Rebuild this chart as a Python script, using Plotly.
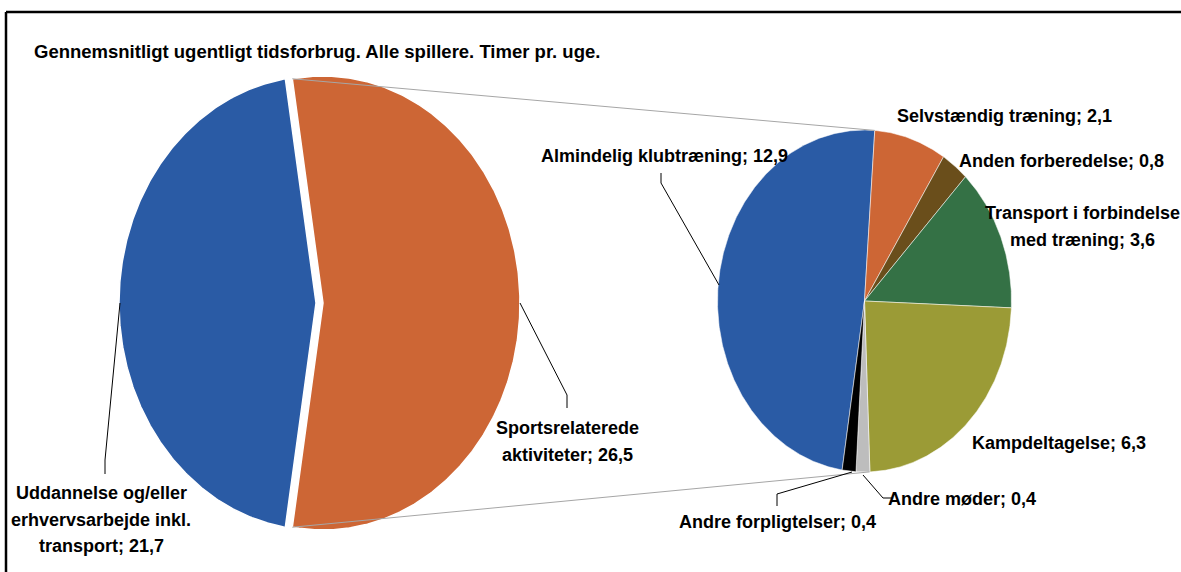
import numpy as np
import plotly.graph_objects as go

# ---------------- data ----------------
title_text = "Gennemsnitligt ugentligt tidsforbrug. Alle spillere. Timer pr. uge."

main_label_lines = [
    ["Uddannelse og/eller", "erhvervsarbejde inkl.", "transport"],
    ["Sportsrelaterede", "aktiviteter"],
]
main_values = [21.7, 26.5]
main_colors = ["#2A5BA5", "#CD6635"]

sub_label_lines = [
    ["Almindelig klubtræning"],
    ["Selvstændig træning"],
    ["Anden forberedelse"],
    ["Transport i forbindelse", "med træning"],
    ["Kampdeltagelse"],
    ["Andre møder"],
    ["Andre forpligtelser"],
]
sub_values = [12.9, 2.1, 0.8, 3.6, 6.3, 0.4, 0.4]
sub_colors = ["#2A5BA5", "#CD6635", "#6A4E1B", "#347145", "#9B9B36", "#BDBDBD", "#000000"]

# ---------------- layout constants ----------------
W, H = 1181, 572
FONT = "Liberation Sans, Arial, sans-serif"
LBL_SIZE = 18
LINE_GAP = 26.5

L_CX, L_CY, L_RX, L_RY, L_EXPLODE = 316, 303, 197, 227, 7
R_CX, R_CY, R_RX, R_RY = 864.5, 301, 147, 171
R_START = 4.0  # clockwise degrees from 12 o'clock where the 2nd slice begins


def fmt(v):
    return f"{v:.1f}".replace(".", ",")


def ell_pt(cx, cy, rx, ry, a):
    r = np.radians(a)
    return cx + rx * np.sin(r), cy - ry * np.cos(r)


def wedge(cx, cy, rx, ry, a0, a1):
    n = max(3, int(abs(a1 - a0) * 2) + 2)
    t = np.linspace(a0, a1, n)
    xs, ys = ell_pt(cx, cy, rx, ry, t)
    return [cx] + list(xs) + [cx], [cy] + list(ys) + [cy]


fig = go.Figure()

# ---------------- left (main) pie ----------------
tot_main = sum(main_values)
half = main_values[1] / tot_main * 180.0
main_spans = [(90 + half, 450 - half), (90 - half, 90 + half)]
main_centers = [(L_CX, L_CY), (L_CX + L_EXPLODE, L_CY)]
for i, v in enumerate(main_values):
    a0, a1 = main_spans[i]
    cx, cy = main_centers[i]
    xs, ys = wedge(cx, cy, L_RX, L_RY, a0, a1)
    fig.add_trace(go.Scatter(
        x=xs, y=ys, mode="lines", fill="toself", fillcolor=main_colors[i],
        line=dict(color="white", width=1.5), hoverinfo="text",
        text=" ".join(main_label_lines[i]) + "; " + fmt(v), showlegend=False))

# ---------------- right (secondary) pie ----------------
tot_sub = sum(sub_values)
start = R_START - sub_values[0] / tot_sub * 360.0
ang = start
for i, v in enumerate(sub_values):
    a1 = ang + v / tot_sub * 360.0
    xs, ys = wedge(R_CX, R_CY, R_RX, R_RY, ang, a1)
    fig.add_trace(go.Scatter(
        x=xs, y=ys, mode="lines", fill="toself", fillcolor=sub_colors[i],
        line=dict(color="rgba(255,255,255,0.7)", width=0.75), hoverinfo="text",
        text=" ".join(sub_label_lines[i]) + "; " + fmt(v), showlegend=False))
    ang = a1

# ---------------- connector lines between pies ----------------
ox, oy = main_centers[1]
p_top = ell_pt(ox, oy, L_RX, L_RY, 90 - half)
p_bot = ell_pt(ox, oy, L_RX, L_RY, 90 + half)
q_top = ell_pt(R_CX, R_CY, R_RX, R_RY, R_START)
q_bot = ell_pt(R_CX, R_CY, R_RX, R_RY, 178)
for p, q in [(p_top, q_top), (p_bot, q_bot)]:
    fig.add_trace(go.Scatter(x=[p[0], q[0]], y=[p[1], q[1]], mode="lines",
                             line=dict(color="#A6A6A6", width=1), hoverinfo="skip",
                             showlegend=False))

# ---------------- leader lines ----------------
leaders = [
    [(120, 303), (105, 460), (105, 474)],
    [(520, 303), (567, 395), (567, 408)],
    [(719, 285), (661, 183), (661, 173)],
    [(852, 472), (777, 494), (777, 506)],
    [(863, 475), (883, 498), (892, 498)],
]
for pts in leaders:
    fig.add_trace(go.Scatter(x=[p[0] for p in pts], y=[p[1] for p in pts], mode="lines",
                             line=dict(color="black", width=1), hoverinfo="skip",
                             showlegend=False))

# ---------------- labels (y = centre of first line) ----------------
main_pos = [(101, 493), (567, 428)]
sub_pos = [(664, 156), (1004, 116), (1061, 161), (1082, 213), (1059, 443), (962, 499), (777, 522)]

lbl_font = dict(family=FONT, size=LBL_SIZE, color="black", weight="bold")


def add_label(pos, lines, v):
    x, y = pos
    for k, ln in enumerate(lines):
        txt = ln + ("; " + fmt(v) if k == len(lines) - 1 else "")
        fig.add_annotation(x=x, y=y + k * LINE_GAP, text=txt, showarrow=False,
                           xanchor="center", yanchor="middle", font=lbl_font)


for i, v in enumerate(main_values):
    add_label(main_pos[i], main_label_lines[i], v)
for i, v in enumerate(sub_values):
    add_label(sub_pos[i], sub_label_lines[i], v)

fig.add_annotation(x=317, y=51, text=title_text, showarrow=False,
                   xanchor="center", yanchor="middle",
                   font=dict(family=FONT, size=18.5, color="black", weight="bold"))

# ---------------- frame ----------------
fig.add_shape(type="line", x0=6, y0=12, x1=W, y1=12, line=dict(color="black", width=2.5))
fig.add_shape(type="line", x0=6, y0=12, x1=6, y1=H, line=dict(color="black", width=2.5))

fig.update_layout(
    width=W, height=H, margin=dict(l=0, r=0, t=0, b=0),
    paper_bgcolor="white", plot_bgcolor="white",
    font=dict(family=FONT, color="black"),
    xaxis=dict(range=[0, W], visible=False, fixedrange=True),
    yaxis=dict(range=[H, 0], visible=False, fixedrange=True),
)

fig.write_html("out.html", config={"displayModeBar": False},
               post_script="document.body.style.margin='0px';document.body.style.overflow='hidden';")
